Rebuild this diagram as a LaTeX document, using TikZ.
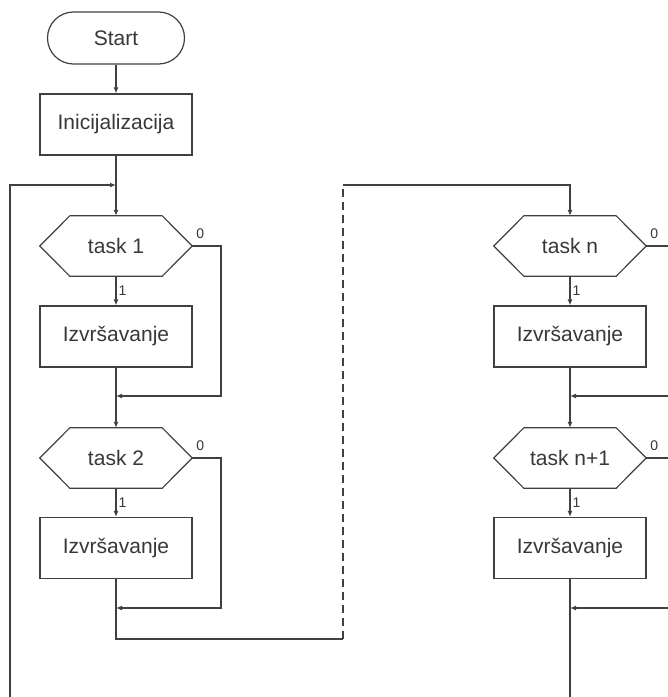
\documentclass[tikz,border=0pt]{standalone}
\usepackage{fontspec}
\setmainfont{Liberation Sans}
\usetikzlibrary{arrows.meta}
\definecolor{ln}{HTML}{404040}
\definecolor{tx}{HTML}{383838}
\tikzset{
  line/.style={draw=ln, line width=1.2pt},
  arr/.style={line, -{Latex[length=6pt,width=5pt]}},
  proc/.style={line, rectangle, minimum width=152pt, minimum height=61pt, inner sep=0pt, text=tx, font=\fontsize{21}{24}\selectfont},
  term/.style={line, rectangle, rounded corners=26pt, minimum width=137pt, minimum height=52pt, inner sep=0pt, text=tx, font=\fontsize{21}{24}\selectfont},
  hexa/.style={rectangle, minimum width=152pt, minimum height=60pt, inner sep=0pt, text=tx, font=\fontsize{21}{24}\selectfont},
  lab/.style={text=tx, font=\fontsize{14}{16}\selectfont, inner sep=1pt},
  dashline/.style={line, dash pattern=on 8pt off 5pt}
}
\begin{document}
\begin{tikzpicture}[x=1pt, y=-1pt]
\useasboundingbox (0,0) rectangle (668,697);
\clip (0,0) rectangle (668,697);
\fill[white] (0,0) rectangle (668,697);

\node[term] (start) at (116,38) {Start};
\node[proc] (init) at (116,124.5) {Inicijalizacija};
\node[hexa] (t1) at (116,246) {task 1};
\node[proc] (e1) at (116,336.5) {Izvršavanje};
\node[hexa] (t2) at (116,458) {task 2};
\node[proc] (e2) at (116,548) {Izvršavanje};
\node[hexa] (tn) at (570,246) {task n};
\node[proc] (en) at (570,336.5) {Izvršavanje};
\node[hexa] (tm) at (570,458) {task n+1};
\node[proc] (em) at (570,548) {Izvršavanje};

\foreach \n in {t1,t2,tn,tm}
  \draw[line] (\n.west) -- ([xshift=30pt]\n.north west) -- ([xshift=-30pt]\n.north east)
    -- (\n.east) -- ([xshift=-30pt]\n.south east) -- ([xshift=30pt]\n.south west) -- cycle;

% coordinates
\coordinate (loopbot) at (10,705);
\coordinate (loopin) at (116,185);
\coordinate (m1) at (116,396);
\coordinate (m2) at (116,608);
\coordinate (r1) at (221,246);
\coordinate (r1b) at (221,396);
\coordinate (r2) at (221,458);
\coordinate (r2b) at (221,608);
\coordinate (low) at (116,639);
\coordinate (dl) at (343,639);
\coordinate (du) at (343,185);
\coordinate (tntop) at (570,185);
\coordinate (mn) at (570,396);
\coordinate (mm) at (570,608);
\coordinate (outn) at (680,246);
\coordinate (outm) at (680,458);
\coordinate (inn) at (680,396);
\coordinate (inm) at (680,608);
\coordinate (endb) at (570,705);

\draw[arr] (start) -- (init);
\draw[arr] (loopbot) -- (10,185) -- (loopin);
\draw[arr] (init) -- (t1);
\draw[arr] (t1) -- node[lab, right, pos=0.5, xshift=1pt] {1} (e1);
\draw[arr] (t1.east) -- (r1) -- (r1b) -- (m1);
\draw[arr] (e1) -- (t2);
\draw[arr] (t2) -- node[lab, right, pos=0.5, xshift=1pt] {1} (e2);
\draw[arr] (t2.east) -- (r2) -- (r2b) -- (m2);
\draw[line] (e2.south) -- (low) -- (dl);
\draw[dashline] (dl) -- (du);
\draw[arr] (du) -- (tntop) -- (tn.north);
\draw[arr] (tn) -- node[lab, right, pos=0.5, xshift=1pt] {1} (en);
\draw[line] (tn.east) -- (outn);
\draw[arr] (inn) -- (mn);
\draw[arr] (en) -- (tm);
\draw[arr] (tm) -- node[lab, right, pos=0.5, xshift=1pt] {1} (em);
\draw[line] (tm.east) -- (outm);
\draw[arr] (inm) -- (mm);
\draw[line] (em.south) -- (endb);

\node[lab] at ([xshift=8pt,yshift=12pt]t1.east) {0};
\node[lab] at ([xshift=8pt,yshift=12pt]t2.east) {0};
\node[lab] at ([xshift=8pt,yshift=12pt]tn.east) {0};
\node[lab] at ([xshift=8pt,yshift=12pt]tm.east) {0};
\end{tikzpicture}
\end{document}
